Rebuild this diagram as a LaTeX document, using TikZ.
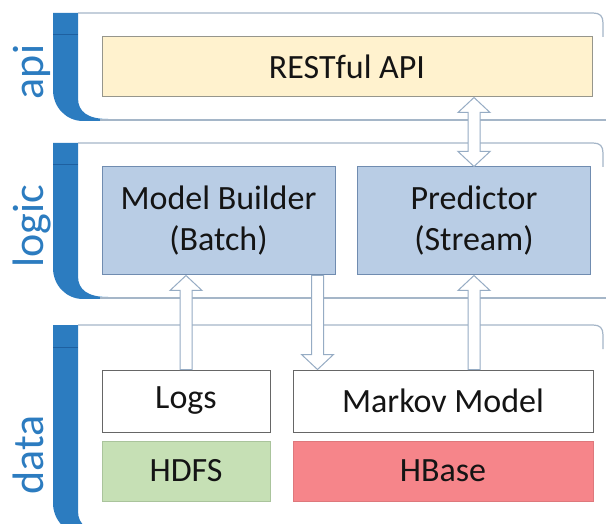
\documentclass[tikz,border=0pt]{standalone}
\usepackage{fontspec}
\setmainfont{Carlito}
\usetikzlibrary{calc}

\definecolor{barblue}{RGB}{44,124,192}
\definecolor{bardark}{RGB}{30,96,160}
\definecolor{frameline}{RGB}{165,182,200}
\definecolor{textdark}{RGB}{20,20,20}
\definecolor{apifill}{RGB}{255,242,206}
\definecolor{apiline}{RGB}{150,150,140}
\definecolor{logicfill}{RGB}{185,205,229}
\definecolor{logicline}{RGB}{112,140,176}
\definecolor{hdfsfill}{RGB}{198,224,181}
\definecolor{hdfsline}{RGB}{170,196,156}
\definecolor{hbasefill}{RGB}{246,133,138}
\definecolor{hbaseline}{RGB}{222,120,124}
\definecolor{arrowline}{RGB}{150,172,196}

\newcommand{\nodefont}{\fontsize{34}{41}\selectfont}
\newcommand{\layerfont}{\fontsize{44}{48}\selectfont}

\tikzset{
  box/.style={draw, line width=1pt, inner sep=0pt, align=center, font=\nodefont, text=textdark},
  apibox/.style={box, fill=apifill, draw=apiline},
  logicbox/.style={box, fill=logicfill, draw=logicline, minimum width=233pt, minimum height=108pt},
  databox/.style={box, fill=white, draw=black!60, minimum height=62pt},
  storebox/.style={box, minimum height=60pt},
  layerlabel/.style={rotate=90, anchor=base, inner sep=0pt, text=barblue, font=\layerfont},
  panelline/.style={draw=frameline, line width=1.2pt},
  blockarrow/.style={fill=white, draw=arrowline, line width=1pt, line join=miter},
}

% one layer: blue bar on the left, thin frame lines
\newcommand{\layerpanel}[2]{%
  \fill[barblue] (53,#1) -- (78,#1) -- (78,#2-22) .. controls (78,#2-8) and (88,#2-1) .. (108,#2-1)
    -- (108,#2+1) -- (83,#2+1) .. controls (66,#2+1) and (53,#2-13) .. (53,#2-30) -- cycle;
  \draw[bardark, line width=1pt] (53,#1+22) -- (78,#1+22);
  \draw[panelline] (78,#1) -- (593,#1) .. controls (600,#1) and (603,#1+3) .. (603,#1+10) -- (603,#1+24);
  \draw[panelline] (100,#2) -- (606,#2);
}

% hollow block arrow from #1 to #2 (vertical, x of #1)
\newcommand{\blockto}[2]{%
  \filldraw[blockarrow] let \p1=(#1), \p2=(#2), \n1={sign(\y2-\y1)} in
    (\x1-6pt,\y1) -- (\x1-6pt,\y2-15pt*\n1) -- (\x1-16pt,\y2-15pt*\n1) -- (\x1,\y2)
    -- (\x1+16pt,\y2-15pt*\n1) -- (\x1+6pt,\y2-15pt*\n1) -- (\x1+6pt,\y1) -- cycle;}
\newcommand{\blockboth}[2]{%
  \filldraw[blockarrow] let \p1=(#1), \p2=(#2), \n1={sign(\y2-\y1)} in
    (\x1,\y1) -- (\x1+16pt,\y1+15pt*\n1) -- (\x1+6pt,\y1+15pt*\n1) -- (\x1+6pt,\y2-15pt*\n1)
    -- (\x1+16pt,\y2-15pt*\n1) -- (\x1,\y2) -- (\x1-16pt,\y2-15pt*\n1) -- (\x1-6pt,\y2-15pt*\n1)
    -- (\x1-6pt,\y1+15pt*\n1) -- (\x1-16pt,\y1+15pt*\n1) -- cycle;}

\begin{document}
\begin{tikzpicture}[x=1pt,y=-1pt]
	\useasboundingbox (0,0) rectangle (606,524);
	\clip (0,0) rectangle (606,524);
	\fill[white] (0,0) rectangle (606,524);

	\layerpanel{13}{120}
	\layerpanel{143}{298}
	\layerpanel{325}{533}

	\node[layerlabel] (apilbl) at (43,72) {api};
	\node[layerlabel] (logiclbl) at (43,226) {logic};
	\node[layerlabel] (datalbl) at (43,455) {data};

	\node[apibox, minimum width=490pt, minimum height=60pt] (api) at (347,67) {RESTful API};
	\node[logicbox] (builder) at (218.5,221) {Model Builder\\(Batch)};
	\node[logicbox] (predictor) at (474,221) {Predictor\\(Stream)};
	\node[databox, minimum width=168pt] (logs) at (186,401) {Logs};
	\node[databox, minimum width=300pt] (markov) at (443,401) {Markov Model};
	\node[storebox, fill=hdfsfill, draw=hdfsline, minimum width=168pt] (hdfs) at (186,471) {HDFS};
	\node[storebox, fill=hbasefill, draw=hbaseline, minimum width=300pt] (hbase) at (443,471) {HBase};

	\blockboth{predictor.north}{api.south}
	\blockto{logs.north}{builder.south}
	\blockto{[xshift=-18pt]builder.south east}{markov.north}
	\blockto{markov.north -| predictor.south}{predictor.south}
\end{tikzpicture}
\end{document}
